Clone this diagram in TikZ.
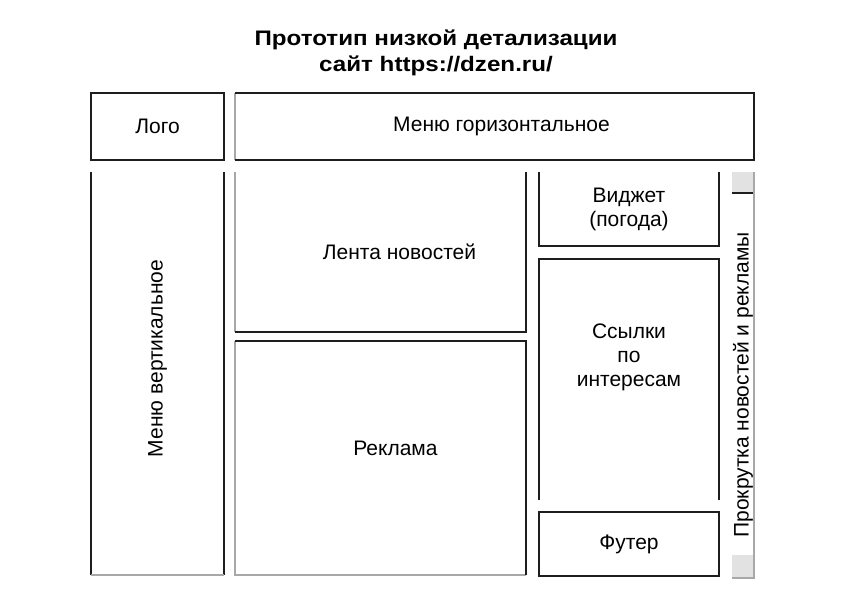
\documentclass[tikz,border=0pt]{standalone}
\usepackage{fontspec}
\setmainfont{Liberation Sans}
\newfontfamily\titlefont[FakeStretch=1.15]{Liberation Sans}
\usepackage{tikz}
\usetikzlibrary{positioning}

\definecolor{inkline}{HTML}{1E1E1E}
\definecolor{faintline}{HTML}{A8A8A8}
\definecolor{thumbfill}{HTML}{E2E2E2}

\begin{document}
\begin{tikzpicture}[
    x=1pt,
    y=-1pt,
    zone/.style={draw=inkline, line width=1.1pt, inner sep=0pt, outer sep=0pt, align=center, font=\fontsize{21}{24}\selectfont},
    openzone/.style={inner sep=0pt, outer sep=0pt, align=center, font=\fontsize{21}{24}\selectfont},
    tag/.style={align=center, font=\fontsize{21}{24}\selectfont},
    edge/.style={draw=inkline, line width=1.1pt},
    faint/.style={draw=faintline, line width=1.1pt},
    caption/.style={align=center, font=\titlefont\bfseries\fontsize{21}{26}\selectfont}
]
\useasboundingbox (0,0) rectangle (843,596);

\node[caption] (title) at (436,53) {Прототип низкой детализации\\сайт https://dzen.ru/};

\node[zone, minimum width=133pt, minimum height=67pt] (logo) at (157.5,126.5) {Лого};
\node[openzone, minimum width=519pt, minimum height=67pt] (hmenu) at (494.5,126.5) {};
\node[tag] (hmenutext) at ([xshift=7pt]hmenu.center) {Меню горизонтальное};

\node[openzone, minimum width=133pt, minimum height=403pt] (vmenu) at (157.5,373.5) {};
\node[tag, rotate=90] (vmenutext) at ([yshift=15pt]vmenu.center) {Меню вертикальное};

\node[openzone, minimum width=291pt, minimum height=160pt] (feed) at (380.5,252) {};
\node[tag] (feedtext) at ([xshift=19pt]feed.center) {Лента новостей};

\node[openzone, minimum width=291pt, minimum height=234pt] (ads) at (380.5,458) {};
\node[tag] (adstext) at ([xshift=15pt,yshift=10pt]ads.center) {Реклама};

\node[openzone, minimum width=180pt, minimum height=74pt] (widget) at (629,209) {Виджет\\(погода)};
\node[openzone, minimum width=180pt, minimum height=241pt] (links) at (629,379.5) {};
\node[tag] (linkstext) at ([yshift=22pt]links.center) {Ссылки\\по\\интересам};
\node[zone, minimum width=180pt, minimum height=64pt] (footer) at (629,544) {Футер};

\node[openzone, minimum width=22pt, minimum height=406pt] (scroll) at (743,375) {};
\node[tag, rotate=90] (scrolltext) at ([yshift=-10pt]scroll.center) {Прокрутка новостей и рекламы};

\draw[faint] (hmenu.south west) -- (hmenu.north west);
\draw[edge] (hmenu.north west) -| (hmenu.south east) -- (hmenu.south west);

\draw[edge] (vmenu.north west) -- (vmenu.south west);
\draw[edge] (vmenu.north east) -- (vmenu.south east);
\draw[faint] (vmenu.south west) -- (vmenu.south east);

\draw[faint] (feed.north west) -- (feed.south west);
\draw[edge] (feed.south west) -- (feed.south east) -- (feed.north east);

\draw[faint] (ads.north west) -- (ads.south west) -- (ads.south east);
\draw[edge] (ads.north west) -- (ads.north east) -- (ads.south east);

\draw[edge] (widget.north west) |- (widget.south east) -- (widget.north east);
\draw[edge] (links.south west) |- (links.north east) -- (links.south east);

\fill[thumbfill] (scroll.north west) rectangle ([yshift=-21pt]scroll.north east);
\fill[thumbfill] ([yshift=23pt]scroll.south west) rectangle (scroll.south east);
\draw[edge] ([yshift=-21pt]scroll.north west) -- ([yshift=-21pt]scroll.north east);
\draw[faint] (scroll.north east) -- (scroll.south east) -- (scroll.south west);
\end{tikzpicture}
\end{document}
